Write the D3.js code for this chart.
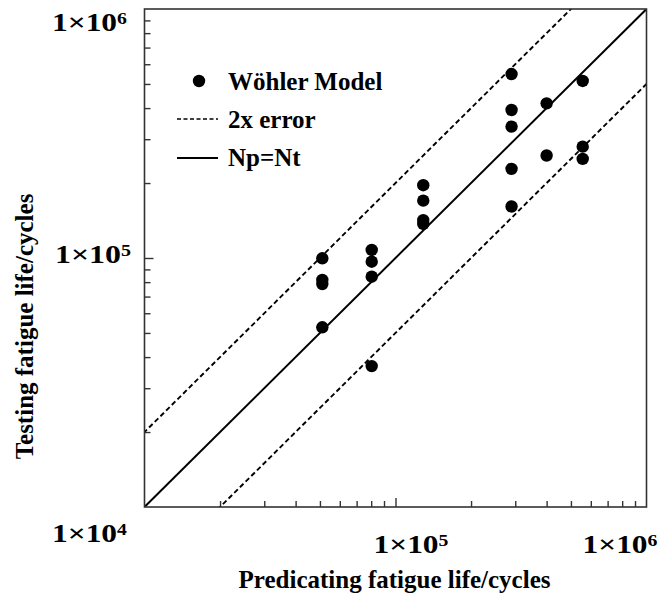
<!DOCTYPE html>
<html><head><meta charset="utf-8">
<script src="https://cdn.jsdelivr.net/npm/d3@7"></script>
<style>body{margin:0;background:#fff}svg{display:block}</style>
</head><body>
<script>
// ---- data ----
const predicted = [5.11e4,5.11e4,5.11e4,5.11e4, 8.04e4,8.04e4,8.04e4,8.04e4, 1.29e5,1.29e5,1.29e5,1.29e5, 2.90e5,2.90e5,2.90e5,2.90e5,2.90e5, 4.0e5,4.0e5, 5.57e5,5.57e5,5.57e5];
const tested    = [9.97e4,8.16e4,7.86e4,5.27e4, 1.077e5,9.66e4,8.41e4,3.68e4, 1.96e5,1.70e5,1.42e5,1.37e5, 5.48e5,3.93e5,3.37e5,2.28e5,1.61e5, 4.18e5,2.58e5, 5.14e5,2.80e5,2.50e5];
const domainLog = [1e4, 1e6];
const errorFactors = [2, 0.5];
const majorTicks = [1e5];
const tickLabelExp = [4, 5, 6];
const legendLabels = ["Wöhler Model", "2x error", "Np=Nt"];
const xTitle = "Predicating fatigue life/cycles";
const yTitle = "Testing fatigue life/cycles";

const W = 658, H = 597;
const FONT = "'Liberation Serif','Times New Roman',serif";
const svg = d3.select("body").append("svg").attr("width", W).attr("height", H);

const x = d3.scaleLog().domain(domainLog).range([144.5, 646.5]);
const y = d3.scaleLog().domain(domainLog).range([507, 9]);

const minor = [];
for (let d = 1e4; d < 1e6; d *= 10) for (let m = 2; m <= 9; m++) minor.push(d * m);

// clip
svg.append("clipPath").attr("id", "clip").append("rect")
  .attr("x", x(1e4)).attr("y", y(1e6)).attr("width", x(1e6) - x(1e4)).attr("height", y(1e4) - y(1e6));

// axes ticks (inward)
function styleAxis(g) {
  g.select(".domain").remove();
  g.selectAll(".tick line").attr("stroke", "#333").attr("stroke-width", 1.4);
  g.selectAll("text").remove();
}
svg.append("g").attr("transform", `translate(0,${y(1e4)})`)
  .call(d3.axisBottom(x).tickValues(minor).tickSize(-6).tickFormat("")).call(styleAxis);
svg.append("g").attr("transform", `translate(0,${y(1e4)})`)
  .call(d3.axisBottom(x).tickValues(majorTicks).tickSize(-9).tickFormat("")).call(styleAxis);
svg.append("g").attr("transform", `translate(${x(1e4)},0)`)
  .call(d3.axisLeft(y).tickValues(minor).tickSize(-6).tickFormat("")).call(styleAxis);
svg.append("g").attr("transform", `translate(${x(1e4)},0)`)
  .call(d3.axisLeft(y).tickValues(majorTicks).tickSize(-9).tickFormat("")).call(styleAxis);

// lines
const plot = svg.append("g").attr("clip-path", "url(#clip)");
const line = d3.line().x(d => x(d[0])).y(d => y(d[1]));
plot.append("path").datum(domainLog.map(v => [v, v])).attr("d", line)
  .attr("stroke", "#000").attr("stroke-width", 2).attr("fill", "none");
errorFactors.forEach(f => {
  plot.append("path").datum([[1e3, 1e3 * f], [1e7, 1e7 * f]]).attr("d", line)
    .attr("stroke", "#000").attr("stroke-width", 1.9).attr("stroke-dasharray", "5,3").attr("fill", "none");
});

// points
svg.append("g").selectAll("circle").data(predicted.map((p, i) => [p, tested[i]])).join("circle")
  .attr("cx", d => x(d[0])).attr("cy", d => y(d[1])).attr("r", 6.2).attr("fill", "#000");

// frame
svg.append("rect").attr("x", x(1e4)).attr("y", y(1e6)).attr("width", x(1e6) - x(1e4)).attr("height", y(1e4) - y(1e6))
  .attr("fill", "none").attr("stroke", "#333").attr("stroke-width", 1.6);

// tick labels with superscripts, stretched to the reference width
function sciLabel(left, baseline, exp, targetW) {
  const g = svg.append("g");
  const t = g.append("text").attr("font-family", FONT).attr("font-weight", "bold").attr("font-size", 25.5).attr("fill", "#000");
  t.append("tspan").text("1\u00D710");
  t.append("tspan").attr("font-size", 16).attr("dy", -7).text(exp);
  const w = t.node().getComputedTextLength();
  g.attr("transform", `translate(${left},${baseline}) scale(${targetW / w},1)`);
}
sciLabel(52, 31, tickLabelExp[2], 75);
sciLabel(55, y(1e5) + 5, tickLabelExp[1], 76);
sciLabel(52, 542, tickLabelExp[0], 75);
sciLabel(x(1e5) - 22, 553, tickLabelExp[1], 75);
sciLabel(x(1e6) - 64, 553, tickLabelExp[2], 75);

// axis titles
svg.append("text").attr("x", 394.5).attr("y", 588).attr("text-anchor", "middle")
  .attr("font-family", FONT).attr("font-weight", "bold").attr("font-size", 25).text(xTitle);
svg.append("text").attr("transform", "translate(33,326.5) rotate(-90)").attr("text-anchor", "middle")
  .attr("font-family", FONT).attr("font-weight", "bold").attr("font-size", 25).text(yTitle);

// legend
const lg = svg.append("g").attr("font-family", FONT).attr("font-weight", "bold").attr("font-size", 25);
lg.append("circle").attr("cx", 199).attr("cy", 81).attr("r", 6.2).attr("fill", "#000");
lg.append("text").attr("x", 228).attr("y", 90).text(legendLabels[0]);
lg.append("line").attr("x1", 177).attr("x2", 218).attr("y1", 119).attr("y2", 119)
  .attr("stroke", "#000").attr("stroke-width", 1.7).attr("stroke-dasharray", "4,2.5");
lg.append("text").attr("x", 228).attr("y", 128).text(legendLabels[1]);
lg.append("line").attr("x1", 177).attr("x2", 218).attr("y1", 158).attr("y2", 158)
  .attr("stroke", "#000").attr("stroke-width", 1.9);
lg.append("text").attr("x", 228).attr("y", 166).text(legendLabels[2]);
</script>
</body></html>
